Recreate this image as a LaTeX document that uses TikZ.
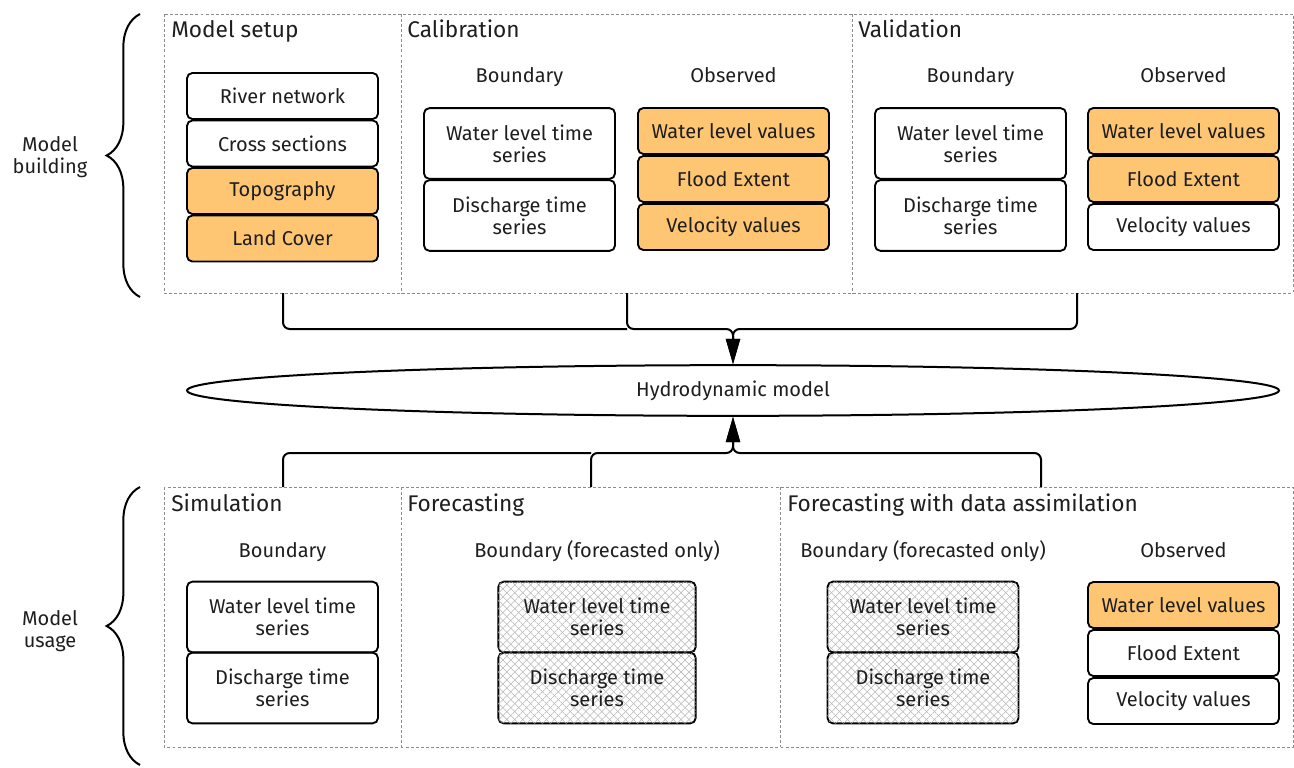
\documentclass[tikz,border=0pt]{standalone}
\usepackage{fontspec}
\setmainfont{Fira Sans}
\usetikzlibrary{patterns,patterns.meta,decorations.pathreplacing,arrows.meta,shapes.geometric}
\definecolor{orng}{RGB}{254,197,115}
\definecolor{txt}{RGB}{30,30,30}
\begin{document}
\begin{tikzpicture}[x=0.75pt,y=-0.75pt,
  every node/.style={text=txt, font=\fontsize{15}{16.5}\selectfont},
  box/.style={draw=black, line width=1.4pt, rounded corners=4pt, align=center, inner sep=0pt, minimum width=143.25pt},
  sbox/.style={box, minimum height=34.5pt},
  tbox/.style={box, minimum height=53pt},
  orbox/.style={sbox, fill=orng},
  hatch/.style={tbox, fill=white,
     postaction={pattern={Lines[angle=45,distance=4.2pt,line width=0.4pt]}, pattern color=black!28},
     postaction={pattern={Lines[angle=-45,distance=4.2pt,line width=0.4pt]}, pattern color=black!28}},
  title/.style={anchor=base west, inner sep=0pt, font=\fontsize{17}{19}\selectfont},
  sub/.style={anchor=base},
  dashbox/.style={draw=black!45, line width=0.6pt, dash pattern=on 2.2pt off 1.6pt},
  conn/.style={line width=1.5pt, rounded corners=5pt},
  arr/.style={conn, -{Triangle[length=19pt,width=10.5pt]}},
  bracestyle/.style={line width=1.5pt, decorate, decoration={brace, amplitude=25pt}}
]
\useasboundingbox (0,0) rectangle (1294,767);

% dashed frames
\draw[dashbox] (164,14) rectangle (1293,293);
\draw[dashbox] (401,14) -- (401,293);
\draw[dashbox] (852,14) -- (852,293);
\draw[dashbox] (164,487) rectangle (1293,747);
\draw[dashbox] (401,487) -- (401,747);
\draw[dashbox] (780,487) -- (780,747);

% titles
\node[title] (t1) at (171,38) {Model setup};
\node[title] (t2) at (407,38) {Calibration};
\node[title] (t3) at (858,38) {Validation};
\node[title] (t4) at (171,511) {Simulation};
\node[title] (t5) at (407,511) {Forecasting};
\node[title] (t6) at (787,511) {Forecasting with data assimilation};

% sub labels
\node[sub] (s1) at (519.5,83) {Boundary};
\node[sub] (s2) at (733.5,83) {Observed};
\node[sub] (s3) at (970.5,83) {Boundary};
\node[sub] (s4) at (1183.5,83) {Observed};
\node[sub] (s5) at (282.5,557) {Boundary};
\node[sub] (s6) at (597,557) {Boundary (forecasted only)};
\node[sub] (s7) at (923,557) {Boundary (forecasted only)};
\node[sub] (s8) at (1183.5,557) {Observed};

% model setup
\node[sbox] (rn) at (282.5,96) {River network};
\node[sbox] (cs) at (282.5,143.5) {Cross sections};
\node[orbox] (tp) at (282.5,191) {Topography};
\node[orbox] (lc) at (282.5,238.5) {Land Cover};

% calibration
\node[tbox] (cwl) at (519.5,143.5) {Water level time\\series};
\node[tbox] (cdq) at (519.5,215.5) {Discharge time\\series};
\node[orbox] (cov1) at (733.5,131) {Water level values};
\node[orbox] (cov2) at (733.5,179) {Flood Extent};
\node[orbox] (cov3) at (733.5,227) {Velocity values};

% validation
\node[tbox] (vwl) at (970.5,143.5) {Water level time\\series};
\node[tbox] (vdq) at (970.5,215.5) {Discharge time\\series};
\node[orbox] (vov1) at (1183.5,131) {Water level values};
\node[orbox] (vov2) at (1183.5,179) {Flood Extent};
\node[sbox] (vov3) at (1183.5,227) {Velocity values};

% simulation
\node[tbox] (swl) at (282.5,617) {Water level time\\series};
\node[tbox] (sdq) at (282.5,688) {Discharge time\\series};

% forecasting
\node[hatch, minimum width=148pt] (fwl) at (597,617) {Water level time\\series};
\node[hatch, minimum width=148pt] (fdq) at (597,688) {Discharge time\\series};

% forecasting with DA
\node[hatch, minimum width=143.25pt] (awl) at (923,617) {Water level time\\series};
\node[hatch, minimum width=143.25pt] (adq) at (923,688) {Discharge time\\series};
\node[orbox] (aov1) at (1183.5,605) {Water level values};
\node[sbox] (aov2) at (1183.5,653) {Flood Extent};
\node[sbox] (aov3) at (1183.5,701) {Velocity values};

% hydrodynamic model
\node[draw=black, line width=1.5pt, ellipse, minimum width=819pt, minimum height=38pt, inner sep=0pt] (hm) at (733,390.5) {Hydrodynamic model};

% connector coordinates
\coordinate (msb) at (283,293);
\coordinate (calb) at (627,293);
\coordinate (valb) at (1077,293);
\coordinate (simt) at (283,487);
\coordinate (fort) at (591,487);
\coordinate (fdat) at (1041,487);

\draw[conn] (msb) -- (283,329) -- (627,329);
\draw[arr] (calb) -- (627,329) -- (733,329) -- (hm.north);
\draw[arr] (valb) -- (1077,329) -- (733,329) -- (hm.north);

\draw[conn] (simt) -- (283,453) -- (591,453);
\draw[arr] (fort) -- (591,453) -- (733,453) -- (hm.south);
\draw[arr] (fdat) -- (1041,453) -- (733,453) -- (hm.south);

% braces
\draw[bracestyle] (140,297) -- (140,14);
\draw[bracestyle] (140,765) -- (140,487);
\node[align=center] (mb) at (50,157) {Model\\building};
\node[align=center] (mu) at (50,631) {Model\\usage};
\end{tikzpicture}
\end{document}
